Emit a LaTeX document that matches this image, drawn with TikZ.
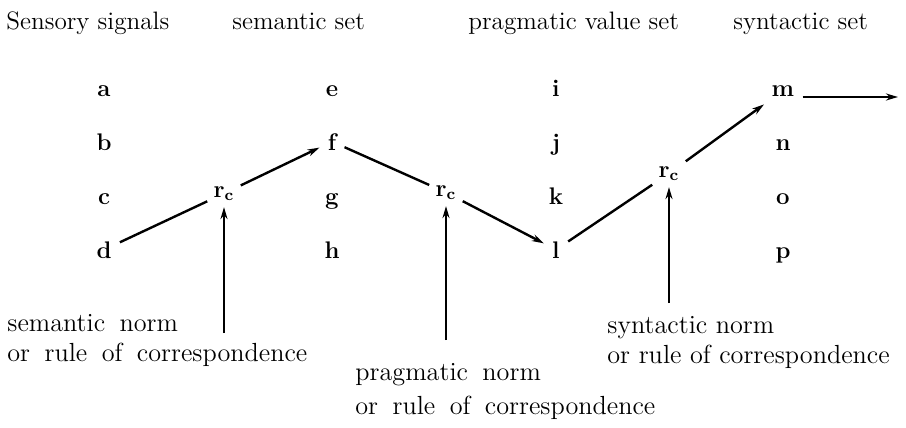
\documentclass[tikz,border=0pt]{standalone}
\usetikzlibrary{arrows.meta}

\begin{document}
\begin{tikzpicture}[x=0.5pt,y=-0.5pt,
  head/.style={font=\fontsize{12.6}{15}\selectfont,anchor=base west,inner sep=0pt},
  elem/.style={font=\fontsize{12}{14}\selectfont\bfseries,anchor=base,inner sep=4pt},
  corr/.style={font=\fontsize{12}{14}\selectfont\bfseries,anchor=base,inner sep=3pt},
  note/.style={font=\fontsize{13.1}{15}\selectfont,align=left,anchor=north west,inner sep=0pt},
  wide/.style={note,font={\fontsize{13.1}{15}\selectfont\spaceskip=.55em\relax}},
  link/.style={line width=1.2pt},
  map/.style={link,-{Stealth[length=6pt,width=3.5pt]}}]

\useasboundingbox (0,0) rectangle (906,428);

% column titles
\node[head] (hsens) at (6,30) {Sensory signals};
\node[head] (hsem) at (232,30) {semantic set};
\node[head] (hprag) at (468,30) {pragmatic value set};
\node[head] (hsyn) at (733,30) {syntactic set};

% the four sets
\foreach \col/\x in {{a,b,c,d}/104,{e,f,g,h}/332,{i,j,k,l}/556,{m,n,o,p}/783}
  \foreach \l [count=\i from 0] in \col
    \node[elem] (\l) at (\x,96+54*\i) {\l};

% rules of correspondence
\node[corr] (rc1) at (224,197) {r\textsubscript{c}};
\node[corr] (rc2) at (446,196) {r\textsubscript{c}};
\node[corr] (rc3) at (669,177) {r\textsubscript{c}};

\draw[link] (d) -- (rc1);
\draw[map] (rc1) -- (f);
\draw[link] (f) -- (rc2);
\draw[map] (rc2) -- (l);
\draw[link] (l) -- (rc3);
\draw[map] (rc3) -- (m);
\coordinate (out) at (898,97);
\draw[map] (m.east |- out) -- (out);

% norms
\coordinate (s1) at (224,333);
\coordinate (s2) at (446,340);
\coordinate (s3) at (669,303);
\draw[map] (s1) -- (rc1);
\draw[map] (s2) -- (rc2);
\draw[map] (s3) -- (rc3);

\node[wide] (nsem) at (7,314) {semantic norm\\or rule of correspondence};
\node[wide] (nprag) at (355,363) {pragmatic norm\\[2pt]or rule of correspondence};
\node[note] (nsyn) at (607,316) {syntactic norm\\or rule of correspondence};
\end{tikzpicture}
\end{document}
